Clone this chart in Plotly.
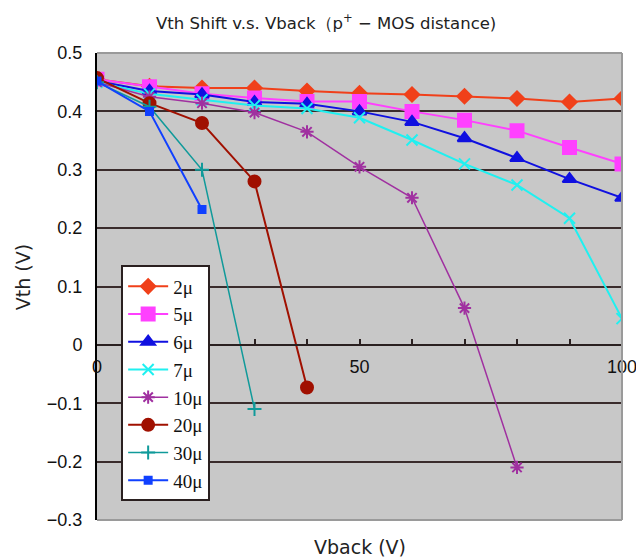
import plotly.graph_objects as go

vback = [0, 10, 20, 30, 40, 50, 60, 70, 80, 90, 100]

series_names = ["2μ", "5μ", "6μ", "7μ", "10μ", "20μ", "30μ", "40μ"]
vth_2u = [0.455, 0.443, 0.440, 0.440, 0.435, 0.431, 0.429, 0.426, 0.422, 0.416, 0.422]
vth_5u = [0.455, 0.442, 0.430, 0.423, 0.417, 0.417, 0.400, 0.385, 0.367, 0.338, 0.310]
vth_6u = [0.452, 0.435, 0.429, 0.416, 0.413, 0.400, 0.382, 0.354, 0.320, 0.284, 0.252]
vth_7u = [0.450, 0.430, 0.420, 0.410, 0.405, 0.389, 0.351, 0.310, 0.274, 0.217, 0.045]
vth_10u = [0.450, 0.425, 0.414, 0.398, 0.365, 0.305, 0.252, 0.063, -0.210]
vth_20u = [0.457, 0.414, 0.380, 0.280, -0.073]
vth_30u = [0.450, 0.408, 0.300, -0.110]
vth_40u = [0.452, 0.400, 0.232]

y_ticks = [0.5, 0.4, 0.3, 0.2, 0.1, 0, -0.1, -0.2, -0.3]
y_ticklabels = ["0.5", "0.4", "0.3", "0.2", "0.1", "0", "−0.1", "−0.2", "−0.3"]
x_ticks = [0, 50, 100]

styles = [
    dict(color="#f0401a", symbol="diamond", size=11, lw=2),
    dict(color="#ff40ff", symbol="square", size=13, lw=2),
    dict(color="#1010e0", symbol="triangle-up", size=12, lw=2),
    dict(color="#20f0f0", symbol="x-thin-open", size=11, lw=2),
    dict(color="#a030a0", symbol="asterisk-open", size=11, lw=1.5),
    dict(color="#a01000", symbol="circle", size=12, lw=2),
    dict(color="#109a9a", symbol="cross-thin-open", size=10, lw=1.5),
    dict(color="#1040ff", symbol="square", size=7, lw=2),
]
all_vals = [vth_2u, vth_5u, vth_6u, vth_7u, vth_10u, vth_20u, vth_30u, vth_40u]

fig = go.Figure()
for name, vals, st in zip(series_names, all_vals, styles):
    fig.add_trace(go.Scatter(
        x=vback[:len(vals)], y=vals, name=name, mode="lines+markers",
        line=dict(color=st["color"], width=st["lw"]),
        marker=dict(symbol=st["symbol"], size=st["size"], color=st["color"],
                    line=dict(color=st["color"], width=2)),
    ))

fig.update_layout(
    width=636, height=560,
    margin=dict(l=97, r=14, t=53, b=40),
    paper_bgcolor="white",
    plot_bgcolor="#c8c8c8",
    showlegend=True,
    legend=dict(
        x=0.046, y=0.545, xanchor="left", yanchor="top",
        bgcolor="white", bordercolor="#2a2020", borderwidth=2,
        font=dict(family="Liberation Serif", size=19, color="#111"),
        tracegroupgap=0, itemwidth=40,
    ),
    font=dict(family="Liberation Sans, Arial", size=18, color="black"),
)

fig.update_yaxes(
    range=[-0.3, 0.5], tickvals=y_ticks, ticktext=y_ticklabels,
    showgrid=True, gridcolor="#3a2c2c", gridwidth=2,
    zeroline=False, showline=True, linecolor="black", linewidth=2,
    ticks="", ticklabelstandoff=9, tickfont=dict(size=18, color="#111"),
    automargin=False,
)
fig.update_xaxes(
    range=[0, 100], tickvals=x_ticks, showgrid=False, zeroline=False,
    anchor="free", position=0.375, showline=True, linecolor="#2a2020", linewidth=2,
    ticks="inside", ticklen=5, tickcolor="#2a2020", tickwidth=2,
    minor=dict(dtick=10, ticks="inside", ticklen=5, tickcolor="#2a2020", tickwidth=2),
    tickfont=dict(size=18, color="#111"), ticklabelstandoff=6,
    ticklabeloverflow="allow", automargin=False,
)

# plot border (light) on top/right/bottom
fig.add_shape(type="line", xref="paper", yref="paper", x0=0, x1=1, y0=1, y1=1,
              line=dict(color="#9a9a9a", width=2))
fig.add_shape(type="line", xref="paper", yref="paper", x0=1, x1=1, y0=0, y1=1,
              line=dict(color="#9a9a9a", width=2))
fig.add_shape(type="line", xref="paper", yref="paper", x0=0, x1=1, y0=0, y1=0,
              line=dict(color="#9a9a9a", width=2))

fig.add_annotation(text="Vth Shift v.s. Vback（p<sup>+</sup> − MOS distance)",
                   xref="paper", yref="paper", x=0.436, y=1, yshift=44,
                   showarrow=False, font=dict(family="DejaVu Sans", size=16.5, color="#222"))
fig.add_annotation(text="Vback (V)", xref="paper", yref="paper", x=0.5, y=0, yshift=-40,
                   showarrow=False, font=dict(family="DejaVu Sans", size=19, color="#222"))
fig.add_annotation(text="Vth (V)", xref="paper", yref="paper", x=0, xshift=-87, y=0.52,
                   textangle=-90, showarrow=False, font=dict(family="DejaVu Sans", size=19, color="#222"))

fig.write_html("out.html", config={"displayModeBar": False},
               post_script="document.body.style.margin='0px';")
